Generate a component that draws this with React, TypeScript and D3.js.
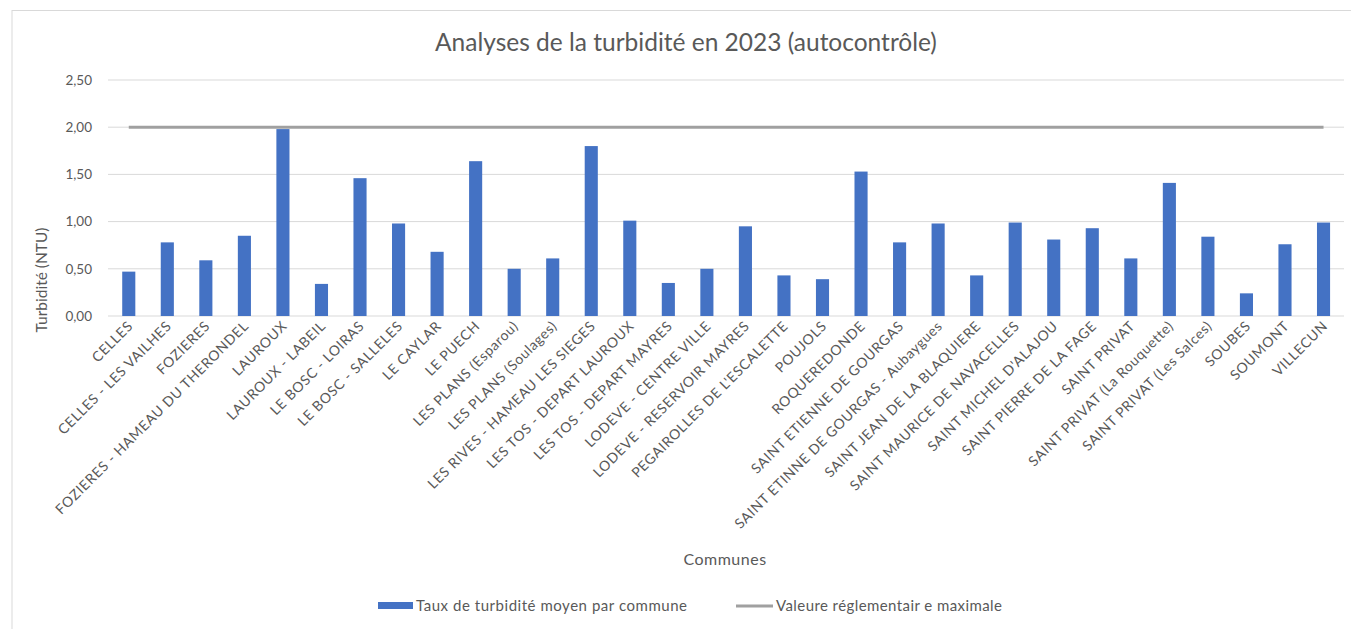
import React from "react";
import * as d3 from "d3";

const communes: string[] = [
  "CELLES",
  "CELLES - LES VAILHES",
  "FOZIERES",
  "FOZIERES - HAMEAU DU THERONDEL",
  "LAUROUX",
  "LAUROUX - LABEIL",
  "LE BOSC - LOIRAS",
  "LE BOSC - SALLELES",
  "LE CAYLAR",
  "LE PUECH",
  "LES PLANS (Esparou)",
  "LES PLANS (Soulages)",
  "LES RIVES - HAMEAU LES SIEGES",
  "LES TOS - DEPART LAUROUX",
  "LES TOS - DEPART MAYRES",
  "LODEVE - CENTRE VILLE",
  "LODEVE - RESERVOIR MAYRES",
  "PEGAIROLLES DE L'ESCALETTE",
  "POUJOLS",
  "ROQUEREDONDE",
  "SAINT ETIENNE DE GOURGAS",
  "SAINT ETINNE DE GOURGAS - Aubaygues",
  "SAINT JEAN DE LA BLAQUIERE",
  "SAINT MAURICE DE NAVACELLES",
  "SAINT MICHEL D'ALAJOU",
  "SAINT PIERRE DE LA FAGE",
  "SAINT PRIVAT",
  "SAINT PRIVAT (La Rouquette)",
  "SAINT PRIVAT (Les Salces)",
  "SOUBES",
  "SOUMONT",
  "VILLECUN",
];

const turbidite: number[] = [
  0.47, 0.78, 0.59, 0.85, 1.98, 0.34, 1.46, 0.98, 0.68, 1.64, 0.5, 0.61, 1.8,
  1.01, 0.35, 0.5, 0.95, 0.43, 0.39, 1.53, 0.78, 0.98, 0.43, 0.99, 0.81, 0.93,
  0.61, 1.41, 0.84, 0.24, 0.76, 0.99,
];

const valeurMax: number[] = communes.map(() => 2.0);

const yTicks: number[] = [0, 0.5, 1, 1.5, 2, 2.5];

const title = "Analyses de la turbidité en 2023 (autocontrôle)";
const yTitle = "Turbidité (NTU)";
const xTitle = "Communes";
const legendBar = "Taux de turbidité moyen par commune";
const legendLine = "Valeure réglementair e maximale";

const W = 1351;
const H = 629;
const FONT = "Lato, 'Open Sans', sans-serif";
const TXT = "#595959";

export default function App() {
  const x = d3.scaleBand<string>().domain(communes).range([109.5, 1342.8]).paddingInner(0.66).paddingOuter(0.33);
  const y = d3.scaleLinear().domain([0, 2.5]).range([316, 80]);
  const fmt = (v: number) => v.toFixed(2).replace(".", ",");
  const line = d3
    .line<number>()
    .x((_, i) => (x(communes[i]) as number) + x.bandwidth() / 2)
    .y((d) => y(d));

  return (
    <svg
      width={W}
      height={H}
      style={{ position: "absolute", left: 0, top: 0, background: "#fff" }}
      fontFamily={FONT}
    >
      <rect x={12} y={10.5} width={W} height={H} fill="#fff" stroke="#d9d9d9" strokeWidth={1} />
      <text x={686} y={51} textAnchor="middle" fontSize={24.5} fill={TXT}>
        {title}
      </text>
      {yTicks.map((t) => (
        <g key={t}>
          <line x1={108} x2={1344} y1={y(t)} y2={y(t)} stroke="#d9d9d9" strokeWidth={1} />
          <text x={92} y={y(t)} dy="0.35em" textAnchor="end" fontSize={13.5} fill={TXT}>
            {fmt(t)}
          </text>
        </g>
      ))}
      {communes.map((c, i) => (
        <rect
          key={c}
          x={x(c)}
          y={y(turbidite[i])}
          width={x.bandwidth()}
          height={y(0) - y(turbidite[i])}
          fill="#4472C4"
        />
      ))}
      <path d={line(valeurMax) || ""} fill="none" stroke="#a0a0a0" strokeWidth={3} />
      {communes.map((c) => {
        const cx = (x(c) as number) + x.bandwidth() / 2 + 5;
        const cy = 327;
        return (
          <text
            key={c}
            x={cx}
            y={cy}
            textAnchor="end"
            fontSize={14}
            letterSpacing={0.6}
            fill={TXT}
            transform={`rotate(-45 ${cx} ${cy})`}
          >
            {c}
          </text>
        );
      })}
      <text
        x={42}
        y={280}
        textAnchor="middle"
        dy="0.35em"
        fontSize={15.5}
        fill={TXT}
        transform="rotate(-90 42 280)"
      >
        {yTitle}
      </text>
      <text x={725} y={559} textAnchor="middle" dy="0.35em" fontSize={16} letterSpacing={0.5} fill={TXT}>
        {xTitle}
      </text>
      <rect x={378} y={602} width={35} height={7} fill="#4472C4" />
      <text x={416} y={606} dy="0.35em" fontSize={15} textLength={271} fill={TXT}>
        {legendBar}
      </text>
      <line x1={736} x2={773} y1={606} y2={606} stroke="#a0a0a0" strokeWidth={3} />
      <text x={776} y={606} dy="0.35em" fontSize={15} textLength={226} fill={TXT}>
        {legendLine}
      </text>
    </svg>
  );
}
